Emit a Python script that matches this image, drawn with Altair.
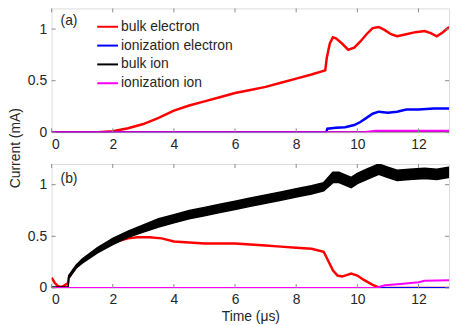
import altair as alt
import pandas as pd

FONT = "Liberation Sans"
names = ["bulk electron", "ionization electron", "bulk ion", "ionization ion"]
colors = ["#ff0000", "#0000ff", "#000000", "#ff00ff"]

x_ticks = [0, 2, 4, 6, 8, 10, 12]
y_ticks = [0, 0.5, 1]

# ---- panel (a) ----
a_be_t = [0, 1.5, 2.0, 2.5, 3.0, 3.5, 4.0, 4.5, 5.0, 5.5, 6.0, 6.5, 7.0, 7.5, 8.0, 8.5, 8.95,
          9.0, 9.1, 9.2, 9.3, 9.5, 9.7, 9.9, 10.1, 10.3, 10.5, 10.7, 10.9, 11.1, 11.3, 11.6,
          11.9, 12.2, 12.4, 12.6, 12.8, 13.0]
a_be_v = [0, 0, 0.01, 0.04, 0.08, 0.14, 0.21, 0.26, 0.30, 0.34, 0.38, 0.41, 0.44, 0.48, 0.52,
          0.56, 0.60, 0.72, 0.86, 0.92, 0.91, 0.86, 0.80, 0.82, 0.88, 0.95, 1.01, 1.02, 0.99,
          0.95, 0.93, 0.95, 0.97, 0.98, 0.96, 0.93, 0.97, 1.02]
a_ie_t = [0, 8.98, 9.02, 9.3, 9.6, 9.9, 10.1, 10.3, 10.5, 10.7, 11.0, 11.3, 11.6, 12.0, 12.5, 13.0]
a_ie_v = [0, 0, 0.035, 0.045, 0.05, 0.07, 0.10, 0.14, 0.18, 0.20, 0.19, 0.20, 0.22, 0.22, 0.23, 0.23]
a_bi_t = [0, 13]
a_bi_v = [0, 0]
a_ii_t = [0, 10.2, 10.6, 13]
a_ii_v = [0, 0, 0.015, 0.015]

# ---- panel (b) ----
b_be_t = [0, 0.1, 0.2, 0.3, 0.4, 0.5, 0.54, 0.56, 0.8, 1.0, 1.5, 2.0, 2.5, 2.8, 3.2, 3.6, 4.0,
          4.5, 5.0, 5.5, 6.0, 6.5, 7.0, 7.5, 8.0, 8.5, 8.9, 9.05, 9.2, 9.35, 9.5, 9.8, 10.0,
          10.2, 10.5, 10.75, 11.0, 12.0, 13.0]
b_be_v = [0.1, 0.05, 0.02, 0.01, 0.02, 0.04, 0.05, 0.1, 0.2, 0.26, 0.36, 0.44, 0.48, 0.49,
          0.49, 0.48, 0.45, 0.44, 0.43, 0.43, 0.43, 0.42, 0.41, 0.40, 0.39, 0.38, 0.35, 0.26,
          0.17, 0.12, 0.11, 0.14, 0.12, 0.08, 0.03, 0.0, 0.0, 0.0, 0.0]
b_ie_t = [0, 13]
b_ie_v = [0, 0]
b_bi_t = [0, 0.54, 0.56, 0.8, 1.0, 1.5, 2.0, 2.5, 3.0, 3.5, 4.0, 4.5, 5.0, 5.5, 6.0, 6.5, 7.0,
          7.5, 8.0, 8.5, 8.9, 9.2, 9.4, 9.8, 10.0, 10.3, 10.7, 11.0, 11.3, 11.7, 12.2, 12.6, 13.0]
b_bi_lo = [0, 0, 0.09, 0.19, 0.24, 0.34, 0.42, 0.49, 0.54, 0.59, 0.63, 0.67, 0.70, 0.73, 0.76,
           0.79, 0.82, 0.85, 0.88, 0.91, 0.94, 1.02, 1.02, 0.97, 1.01, 1.05, 1.10, 1.07, 1.04,
           1.05, 1.06, 1.05, 1.07]
b_bi_hi = [0.01, 0.01, 0.12, 0.22, 0.28, 0.39, 0.48, 0.55, 0.61, 0.67, 0.71, 0.75, 0.78, 0.81,
           0.84, 0.87, 0.90, 0.93, 0.96, 0.99, 1.02, 1.12, 1.12, 1.07, 1.11, 1.15, 1.20, 1.17,
           1.14, 1.15, 1.16, 1.15, 1.17]
b_ii_t = [0, 10.6, 10.9, 11.5, 12.0, 12.2, 13]
b_ii_v = [0, 0, 0.025, 0.04, 0.055, 0.07, 0.075]

W, H = 401, 125
GRAY = "#8a8a8a"
TXT = "#262626"
FS = 14

xscale = alt.Scale(domain=[0, 13], nice=False, zero=False)
yscale = alt.Scale(domain=[0, 1.2], nice=False)
cscale = alt.Scale(domain=names, range=colors)


def xaxis(title=None):
    kw = dict(values=x_ticks, ticks=False, domain=False, grid=False, labelFont=FONT,
              labelFontSize=FS, labelColor=TXT, labelPadding=5)
    if title:
        kw.update(title=title, titleFont=FONT, titleFontSize=FS, titleFontWeight="normal",
                  titleColor=TXT, titlePadding=3)
    else:
        kw.update(title=None)
    return alt.Axis(**kw)


yaxis = alt.Axis(values=y_ticks, ticks=False, domain=False, grid=False, labelFont=FONT,
                 labelFontSize=FS, labelColor=TXT, labelPadding=5, format="~g", title=None)

legend = alt.Legend(orient="none", legendX=45, legendY=7, title=None, symbolType="stroke",
                    symbolStrokeWidth=2, symbolSize=441, labelFont=FONT, labelFontSize=FS,
                    labelColor=TXT, rowPadding=-3, labelOffset=2, padding=0)


def line_a(t, v, name, sw, title=None):
    df = pd.DataFrame({"t": t, "v": v, "series": name})
    return alt.Chart(df).mark_line(strokeWidth=sw, clip=True).encode(
        x=alt.X("t:Q", scale=xscale, axis=xaxis(title)),
        y=alt.Y("v:Q", scale=yscale, axis=yaxis),
        color=alt.Color("series:N", scale=cscale, legend=legend),
    )


def line_b(t, v, col, sw, title=None):
    df = pd.DataFrame({"t": t, "v": v})
    return alt.Chart(df).mark_line(strokeWidth=sw, clip=True, color=col).encode(
        x=alt.X("t:Q", scale=xscale, axis=xaxis(title)),
        y=alt.Y("v:Q", scale=yscale, axis=yaxis),
    )


def tick_layers():
    dx = pd.DataFrame({"t": x_ticks})
    dy = pd.DataFrame({"v": y_ticks})
    top = alt.Chart(dx).mark_rule(color=GRAY, strokeWidth=1).encode(
        x=alt.X("t:Q", scale=xscale), y=alt.value(0), y2=alt.value(4))
    bot = alt.Chart(dx).mark_rule(color=GRAY, strokeWidth=1).encode(
        x=alt.X("t:Q", scale=xscale), y=alt.value(H), y2=alt.value(H - 4))
    left = alt.Chart(dy).mark_rule(color=GRAY, strokeWidth=1).encode(
        y=alt.Y("v:Q", scale=yscale), x=alt.value(0), x2=alt.value(4))
    right = alt.Chart(dy).mark_rule(color=GRAY, strokeWidth=1).encode(
        y=alt.Y("v:Q", scale=yscale), x=alt.value(W), x2=alt.value(W - 4))
    return [top, bot, left, right]


def label(txt, x, y):
    return alt.Chart(pd.DataFrame({"s": [txt]})).mark_text(
        font=FONT, fontSize=FS, color=TXT, align="left", baseline="middle").encode(
        text="s:N", x=alt.value(x), y=alt.value(y))


panel_a = alt.layer(
    line_a(a_be_t, a_be_v, names[0], 2.5),
    line_a(a_ie_t, a_ie_v, names[1], 2.5),
    line_a(a_bi_t, a_bi_v, names[2], 2),
    line_a(a_ii_t, a_ii_v, names[3], 2),
    *tick_layers(),
    label("(a)", 9, 13),
).properties(width=W, height=H)

band_df = pd.DataFrame({"t": b_bi_t, "lo": b_bi_lo, "hi": b_bi_hi})
black_band = alt.Chart(band_df).mark_area(color="#000000", clip=True, opacity=1,
                                          stroke="#000000", strokeWidth=1.5).encode(
    x=alt.X("t:Q", scale=xscale, axis=xaxis("Time (μs)")),
    y=alt.Y("lo:Q", scale=yscale, axis=yaxis),
    y2="hi:Q",
)

ytitle = alt.Chart(pd.DataFrame({"s": ["Current (mA)"]})).mark_text(
    font=FONT, fontSize=FS, color=TXT, angle=270, align="center", baseline="middle").encode(
    text="s:N", x=alt.value(-36), y=alt.value(-16))

panel_b = alt.layer(
    line_b(b_be_t, b_be_v, "#ff0000", 2.5, "Time (μs)"),
    line_b(b_ie_t, b_ie_v, "#0000ff", 2, "Time (μs)"),
    black_band,
    line_b(b_ii_t, b_ii_v, "#ff00ff", 2, "Time (μs)"),
    *tick_layers(),
    label("(b)", 9, 15),
    ytitle,
).properties(width=W, height=H)

chart = alt.vconcat(panel_a, panel_b, spacing=32, bounds="flush").properties(
    padding={"left": 0, "top": -2, "right": 5, "bottom": 0}
).configure_view(stroke=GRAY, strokeWidth=1).configure(background="white")

chart.save("out.html", embed_options={"renderer": "svg", "actions": False})
